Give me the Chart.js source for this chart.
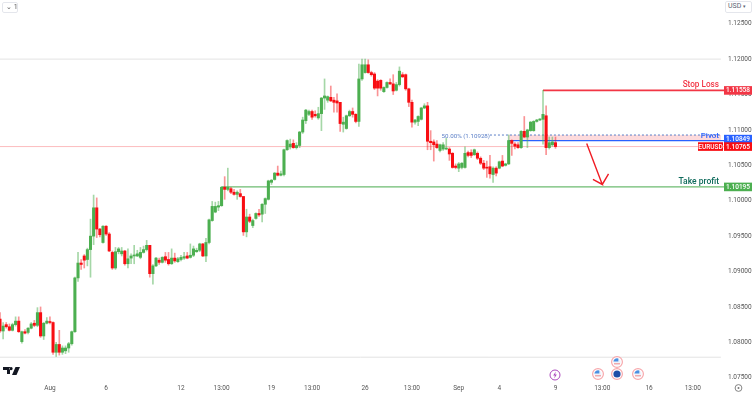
<!DOCTYPE html>
<html>
<head>
<meta charset="utf-8">
<title>EURUSD</title>
<script src="https://cdn.jsdelivr.net/npm/chart.js@4"></script>
<style>
  html, body { margin: 0; background: #fff; }
  #wrap { position: relative; width: 753px; height: 393px; overflow: hidden; font-family: Roboto, sans-serif; }
  canvas { position: absolute; left: 0; top: 0; }
  .btn { position: absolute; box-sizing: border-box; border: 1px solid #e4e6ec; border-radius: 2px; background: #fff; color: #555; font-size: 7px; line-height: 9px; }
  svg { position: absolute; }
</style>
</head>
<body>
<div id="wrap">
  <canvas id="grafico" width="753" height="393"></canvas>
  <div class="btn" style="left:2px;top:2px;width:16px;height:11px;padding-left:3px">&#8964;&nbsp;1</div>
  <div class="btn" style="left:725px;top:1px;width:27px;height:12px;padding-left:2px;color:#5a5f73">USD <span style="font-size:5px">&#9662;</span></div>
  <svg style="left:3px;top:366px" width="17" height="10" viewBox="0 0 17 10">
    <path d="M0 1h7v7H4V4H0z M8 1a1.6 1.6 0 1 0 .1 0z M12.5 1H17l-3.5 8H9z" fill="#131722"/>
  </svg>
  <svg style="left:549px;top:369px" width="12" height="12" viewBox="0 0 12 12">
    <circle cx="6" cy="6" r="5" fill="#fff" stroke="#ab47bc" stroke-width="1"/>
    <path d="M6.8 2.6 4.2 6.4h1.7L5.2 9.4 7.8 5.6H6.1z" fill="#ab47bc"/>
  </svg>
  <svg style="left:591px;top:367px" width="54" height="14" viewBox="0 0 54 14" id="flags1"></svg>
  <svg style="left:610px;top:355px" width="14" height="14" viewBox="0 0 14 14" id="flags2"></svg>
  <svg style="left:733px;top:383px" width="11" height="10" viewBox="0 0 11 10">
    <circle cx="5.5" cy="5" r="3.4" fill="none" stroke="#777" stroke-width="0.9"/>
    <circle cx="5.5" cy="5" r="1" fill="#777"/>
  </svg>
</div>
<script>
// EURUSD 4h velas
const opens = [
  1.0833, 1.0816, 1.0825, 1.0822, 1.0817, 1.0825, 1.0830, 1.0801, 1.0815, 1.0814,
  1.0820, 1.0827, 1.0824, 1.0842, 1.0809, 1.0827, 1.0829, 1.0828, 1.0786, 1.0797,
  1.0786, 1.0788, 1.0792, 1.0798, 1.0815, 1.0891, 1.0912, 1.0922, 1.0917, 1.0931,
  1.0950, 1.0990, 1.0960, 1.0941, 1.0964, 1.0953, 1.0927, 1.0905, 1.0928, 1.0925,
  1.0929, 1.0911, 1.0919, 1.0922, 1.0922, 1.0920, 1.0927, 1.0931, 1.0937, 1.0897,
  1.0908, 1.0916, 1.0913, 1.0921, 1.0917, 1.0911, 1.0919, 1.0914, 1.0917, 1.0919,
  1.0922, 1.0920, 1.0923, 1.0928, 1.0930, 1.0939, 1.0922, 1.0941, 1.0972, 1.0984,
  1.0991, 1.0993, 1.1019, 1.1016, 1.1017, 1.1012, 1.1009, 1.1010, 1.1006, 1.0956,
  1.0977, 1.0965, 1.0975, 1.0982, 1.0981, 1.0995, 1.1002, 1.1026, 1.1030, 1.1039,
  1.1036, 1.1037, 1.1072, 1.1076, 1.1081, 1.1075, 1.1078, 1.1097, 1.1113, 1.1122,
  1.1126, 1.1122, 1.1117, 1.1123, 1.1145, 1.1142, 1.1146, 1.1142, 1.1141, 1.1139,
  1.1108, 1.1102, 1.1120, 1.1126, 1.1122, 1.1112, 1.1172, 1.1181, 1.1192, 1.1181,
  1.1179, 1.1169, 1.1170, 1.1154, 1.1160, 1.1167, 1.1165, 1.1156, 1.1164, 1.1178,
  1.1178, 1.1158, 1.1139, 1.1111, 1.1112, 1.1115, 1.1131, 1.1134, 1.1084, 1.1083,
  1.1080, 1.1071, 1.1073, 1.1073, 1.1073, 1.1067, 1.1049, 1.1046, 1.1047, 1.1047,
  1.1068, 1.1068, 1.1065, 1.1067, 1.1060, 1.1053, 1.1047, 1.1048, 1.1037, 1.1046,
  1.1046, 1.1056, 1.1050, 1.1052, 1.1085, 1.1080, 1.1079, 1.1075, 1.1098, 1.1090,
  1.1099, 1.1099, 1.1112, 1.1114, 1.1115, 1.1120, 1.1075, 1.1079, 1.1082
]
const closes = [
  1.0816, 1.0823, 1.0822, 1.0817, 1.0825, 1.0830, 1.0815, 1.0815, 1.0813, 1.0820,
  1.0826, 1.0824, 1.0842, 1.0809, 1.0827, 1.0830, 1.0828, 1.0786, 1.0797, 1.0786,
  1.0792, 1.0792, 1.0798, 1.0815, 1.0891, 1.0912, 1.0910, 1.0916, 1.0931, 1.0950,
  1.0990, 1.0960, 1.0952, 1.0964, 1.0953, 1.0929, 1.0905, 1.0928, 1.0932, 1.0929,
  1.0911, 1.0918, 1.0922, 1.0923, 1.0925, 1.0927, 1.0931, 1.0937, 1.0897, 1.0908,
  1.0919, 1.0913, 1.0920, 1.0916, 1.0911, 1.0919, 1.0915, 1.0918, 1.0920, 1.0921,
  1.0919, 1.0923, 1.0932, 1.0930, 1.0939, 1.0922, 1.0941, 1.0973, 1.0992, 1.0992,
  1.0993, 1.1019, 1.1016, 1.1019, 1.1012, 1.1009, 1.1012, 1.1006, 1.0956, 1.0977,
  1.0971, 1.0972, 1.0982, 1.0980, 1.0995, 1.1003, 1.1028, 1.1029, 1.1039, 1.1036,
  1.1038, 1.1072, 1.1085, 1.1080, 1.1075, 1.1078, 1.1097, 1.1114, 1.1128, 1.1126,
  1.1118, 1.1120, 1.1123, 1.1145, 1.1148, 1.1147, 1.1141, 1.1139, 1.1138, 1.1109,
  1.1111, 1.1120, 1.1126, 1.1122, 1.1112, 1.1172, 1.1192, 1.1192, 1.1181, 1.1178,
  1.1159, 1.1159, 1.1159, 1.1160, 1.1167, 1.1165, 1.1155, 1.1164, 1.1183, 1.1175,
  1.1158, 1.1139, 1.1111, 1.1114, 1.1119, 1.1131, 1.1134, 1.1084, 1.1082, 1.1079,
  1.1075, 1.1079, 1.1079, 1.1074, 1.1066, 1.1047, 1.1047, 1.1052, 1.1053, 1.1067,
  1.1064, 1.1064, 1.1072, 1.1060, 1.1053, 1.1046, 1.1046, 1.1038, 1.1046, 1.1039,
  1.1055, 1.1049, 1.1052, 1.1085, 1.1081, 1.1077, 1.1075, 1.1098, 1.1090, 1.1100,
  1.1111, 1.1112, 1.1114, 1.1115, 1.1122, 1.1075, 1.1082, 1.1083, 1.10765
]
const highs = [
  1.0842, 1.0828, 1.0828, 1.0826, 1.0827, 1.0836, 1.0836, 1.0816, 1.0818, 1.0821,
  1.0828, 1.0831, 1.0849, 1.0850, 1.0828, 1.0835, 1.0836, 1.0829, 1.0800, 1.0817,
  1.0795, 1.0795, 1.0800, 1.0816, 1.0892, 1.0927, 1.0917, 1.0924, 1.0933, 1.0974,
  1.1008, 1.1004, 1.0961, 1.0965, 1.0965, 1.0955, 1.0929, 1.0934, 1.0934, 1.0934,
  1.0930, 1.0932, 1.0925, 1.0937, 1.0930, 1.0934, 1.0936, 1.0944, 1.0937, 1.0910,
  1.0920, 1.0919, 1.0921, 1.0927, 1.0927, 1.0932, 1.0926, 1.0920, 1.0923, 1.0927,
  1.0927, 1.0939, 1.0936, 1.0933, 1.0940, 1.0940, 1.0947, 1.0974, 1.0999, 1.0998,
  1.0999, 1.1020, 1.1034, 1.1046, 1.1019, 1.1016, 1.1014, 1.1016, 1.1006, 1.0988,
  1.0981, 1.0974, 1.0983, 1.0988, 1.0996, 1.1004, 1.1029, 1.1030, 1.1040, 1.1049,
  1.1042, 1.1073, 1.1086, 1.1087, 1.1086, 1.1082, 1.1098, 1.1118, 1.1129, 1.1128,
  1.1128, 1.1127, 1.1132, 1.1146, 1.1172, 1.1148, 1.1162, 1.1146, 1.1151, 1.1139,
  1.1118, 1.1121, 1.1128, 1.1131, 1.1123, 1.1193, 1.1200, 1.1200, 1.1199, 1.1183,
  1.1181, 1.1171, 1.1171, 1.1161, 1.1168, 1.1172, 1.1178, 1.1167, 1.1189, 1.1181,
  1.1179, 1.1159, 1.1142, 1.1115, 1.1120, 1.1132, 1.1137, 1.1139, 1.1099, 1.1086,
  1.1085, 1.1080, 1.1082, 1.1088, 1.1075, 1.1068, 1.1052, 1.1054, 1.1054, 1.1076,
  1.1070, 1.1072, 1.1073, 1.1069, 1.1062, 1.1057, 1.1056, 1.1064, 1.1048, 1.1048,
  1.1056, 1.1064, 1.1053, 1.1093, 1.1086, 1.1082, 1.1082, 1.1099, 1.1119, 1.1101,
  1.1112, 1.1113, 1.1115, 1.1116, 1.11558, 1.1134, 1.1090, 1.1090, 1.1090
]
const lows = [
  1.0814, 1.0805, 1.0820, 1.0816, 1.0816, 1.0823, 1.0814, 1.0799, 1.0812, 1.0812,
  1.0819, 1.0822, 1.0822, 1.0807, 1.0804, 1.0826, 1.0826, 1.0783, 1.0780, 1.0782,
  1.0783, 1.0784, 1.0786, 1.0796, 1.0814, 1.0886, 1.0903, 1.0905, 1.0908, 1.0892,
  1.0938, 1.0948, 1.0949, 1.0940, 1.0951, 1.0928, 1.0903, 1.0903, 1.0925, 1.0922,
  1.0909, 1.0905, 1.0911, 1.0911, 1.0921, 1.0918, 1.0926, 1.0929, 1.0892, 1.0882,
  1.0907, 1.0910, 1.0912, 1.0913, 1.0909, 1.0910, 1.0913, 1.0913, 1.0915, 1.0917,
  1.0918, 1.0919, 1.0921, 1.0927, 1.0928, 1.0921, 1.0914, 1.0939, 1.0971, 1.0983,
  1.0986, 1.0992, 1.1002, 1.1014, 1.1010, 1.1008, 1.1002, 1.1005, 1.0951, 1.0949,
  1.0969, 1.0962, 1.0974, 1.0978, 1.0970, 1.0982, 1.1001, 1.1023, 1.1029, 1.1035,
  1.1035, 1.1035, 1.1071, 1.1073, 1.1074, 1.1073, 1.1075, 1.1095, 1.1109, 1.1120,
  1.1115, 1.1118, 1.1115, 1.1099, 1.1129, 1.1139, 1.1140, 1.1125, 1.1125, 1.1098,
  1.1097, 1.1101, 1.1119, 1.1118, 1.1110, 1.1105, 1.1170, 1.1180, 1.1180, 1.1176,
  1.1157, 1.1148, 1.1156, 1.1153, 1.1159, 1.1164, 1.1150, 1.1155, 1.1162, 1.1174,
  1.1156, 1.1133, 1.1104, 1.1108, 1.1106, 1.1114, 1.1130, 1.1072, 1.1072, 1.1056,
  1.1074, 1.1069, 1.1071, 1.1072, 1.1057, 1.1046, 1.1045, 1.1041, 1.1045, 1.1046,
  1.1062, 1.1061, 1.1064, 1.1058, 1.1051, 1.1044, 1.1033, 1.1032, 1.1026, 1.1035,
  1.1045, 1.1048, 1.1049, 1.1051, 1.1064, 1.1073, 1.1074, 1.1074, 1.1089, 1.1075,
  1.1098, 1.1098, 1.1111, 1.1113, 1.1080, 1.1065, 1.1073, 1.1077, 1.1074
]

const tickValues = [1.075, 1.08, 1.085, 1.09, 1.095, 1.10, 1.105, 1.11, 1.115, 1.12, 1.125]
const timeIndex = [16, 34, 58, 71, 87, 100, 117, 132, 147, 160, 178, 193, 208, 222]
const timeNames = ['Aug', '6', '12', '13:00', '19', '13:00', '26', '13:00', 'Sep', '4', '9', '13:00', '16', '13:00']

const stopLoss = 1.11558
const pivot = 1.10849
const fibLevel = 1.10928
const takeProfit = 1.10195
const lastPrice = 1.10765
const boxTop = 1.12
const boxBottom = 1.0779
const arrowX = [188, 193, 190, 193, 195]
const arrowY = [1.1081, 1.1023, 1.1030, 1.1023, 1.1038]

const labels = []
for (let i = 0; i <= 232; i++) labels.push(i)

const verde = '#4caf50'
const vermelho = '#f80d12'
const isUp = opens.map((o, i) => closes[i] >= o)

function level(y, from, to, color, extra) {
  return Object.assign({
    type: 'line',
    data: [{ x: from, y }, { x: to, y }],
    borderColor: color,
    borderWidth: 1,
    pointRadius: 0,
    order: 5
  }, extra)
}

// etiquetas e zona do pivot, sempre pelas escalas do grafico
const extras = {
  id: 'extras',
  beforeDatasetsDraw(chart) {
    const { ctx, scales: { x, y } } = chart
    ctx.save()
    ctx.fillStyle = 'rgba(245,100,110,0.24)'
    const top = y.getPixelForValue(fibLevel)
    ctx.fillRect(x.getPixelForValue(163), top, x.getPixelForValue(231) - x.getPixelForValue(163), y.getPixelForValue(pivot) - top)
    ctx.restore()
  },
  afterDraw(chart) {
    const { ctx, scales: { y } } = chart
    const tag = (value, left, w, color, text, shift = 0) => {
      const py = y.getPixelForValue(value) + shift
      ctx.fillStyle = color
      ctx.fillRect(left, py - 4.3, w, 8.6)
      ctx.fillStyle = '#fff'
      ctx.font = '500 6.5px Roboto'
      ctx.textAlign = 'center'
      ctx.textBaseline = 'middle'
      ctx.fillText(text, left + w / 2, py + 0.4)
    }
    const note = (text, right, value, color, font) => {
      ctx.fillStyle = color
      ctx.font = font
      ctx.textAlign = 'right'
      ctx.textBaseline = 'alphabetic'
      ctx.fillText(text, right, y.getPixelForValue(value))
    }
    ctx.save()
    tag(stopLoss, 724, 28, '#f23645', stopLoss.toFixed(5))
    tag(pivot, 724, 28, '#2962ff', pivot.toFixed(5), -1.5)
    tag(lastPrice, 724, 28, '#f80d12', lastPrice.toFixed(5))
    tag(lastPrice, 698, 25, '#f80d12', 'EURUSD')
    tag(takeProfit, 724, 28, '#4caf50', takeProfit.toFixed(5))
    note('Stop Loss', 719, 1.1161, '#f23645', '500 8.2px Roboto')
    note('Pivot', 719, 1.1088, '#2962ff', '500 8px Roboto')
    note('Take profit', 719, 1.1024, '#0f6b5c', '500 8.5px Roboto')
    note('50.00% (1.10928)', 490, 1.1088, '#5b7fc7', '6.2px Roboto')
    ctx.restore()
  }
}

const config = {
  data: {
    labels,
    datasets: [
      {
        type: 'bar',
        data: lows.map((l, i) => [l, highs[i]]),
        backgroundColor: isUp.map(u => u ? 'rgba(76,175,80,0.5)' : 'rgba(245,15,20,0.45)'),
        barThickness: 1,
        grouped: false,
        order: 2
      },
      {
        type: 'bar',
        data: opens.map((o, i) => [o, closes[i]]),
        backgroundColor: isUp.map(u => u ? verde : vermelho),
        barThickness: 2.4,
        minBarLength: 1,
        grouped: false,
        order: 1
      },
      level(boxTop, 0, 231, '#e3e3e3'),
      level(boxBottom, 0, 231, '#e3e3e3'),
      level(lastPrice, 0, 232, 'rgba(245,15,20,0.28)'),
      level(takeProfit, 71, 232, '#6dbb70', { borderWidth: 1.3 }),
      level(stopLoss, 174, 232, '#f23645', { borderWidth: 1.6 }),
      level(pivot, 163, 232, '#2962ff', { borderWidth: 1.3 }),
      level(fibLevel, 157, 231, '#5b7fc7', { borderDash: [2, 2] }),
      {
        type: 'line',
        data: arrowX.map((x, i) => ({ x, y: arrowY[i] })),
        borderColor: '#f01c24',
        borderWidth: 1.4,
        pointRadius: 0,
        order: 0
      }
    ]
  },
  options: {
    responsive: false,
    animation: false,
    events: [],
    layout: { padding: 0 },
    plugins: { legend: { display: false }, tooltip: { enabled: false } },
    scales: {
      x: {
        type: 'category',
        offset: false,
        grid: { display: false, drawTicks: false },
        border: { display: false },
        afterFit(s) { s.height = 12; s.paddingLeft = 0; s.paddingRight = 0 },
        ticks: {
          autoSkip: false,
          maxRotation: 0,
          padding: 3,
          color: '#555',
          font: { size: 6.5, family: 'Roboto' },
          callback(value, i) {
            const k = timeIndex.indexOf(i)
            return k >= 0 ? timeNames[k] : ''
          }
        }
      },
      y: {
        position: 'right',
        min: 1.07454,
        max: 1.12835,
        grid: { display: false, drawTicks: false },
        border: { display: false },
        afterFit(s) { s.width = 29; s.paddingTop = 0; s.paddingBottom = 0 },
        afterBuildTicks(s) { s.ticks = tickValues.map(value => ({ value })) },
        ticks: {
          padding: 4,
          color: '#555',
          font: { size: 6.5, family: 'Roboto' },
          callback: v => v.toFixed(5)
        }
      }
    }
  },
  plugins: [extras]
}

const graph = new Chart(document.getElementById('grafico'), config)

// bandeiras dos eventos
function flag(cx, cy, eu) {
  const inner = eu
    ? '<circle cx="' + cx + '" cy="' + cy + '" r="3.6" fill="#1f4fa8"/>'
    : '<circle cx="' + cx + '" cy="' + cy + '" r="3.6" fill="#eef3fb"/><path d="M' + (cx - 3.6) + ' ' + (cy - 0.4) + 'a3.6 3.6 0 0 1 5 -3.1v3.1z" fill="#4a90e2"/><path d="M' + (cx - 3) + ' ' + (cy + 1.8) + 'h6" stroke="#f28a8a" stroke-width="1"/>'
  return '<circle cx="' + cx + '" cy="' + cy + '" r="5.4" fill="#fff" stroke="#f7a8ac" stroke-width="1.2"/>' + inner
}
document.getElementById('flags1').innerHTML = flag(7, 7, false) + flag(26, 7, true) + flag(47, 7, false)
document.getElementById('flags2').innerHTML = flag(7, 7, false)
</script>
</body>
</html>
